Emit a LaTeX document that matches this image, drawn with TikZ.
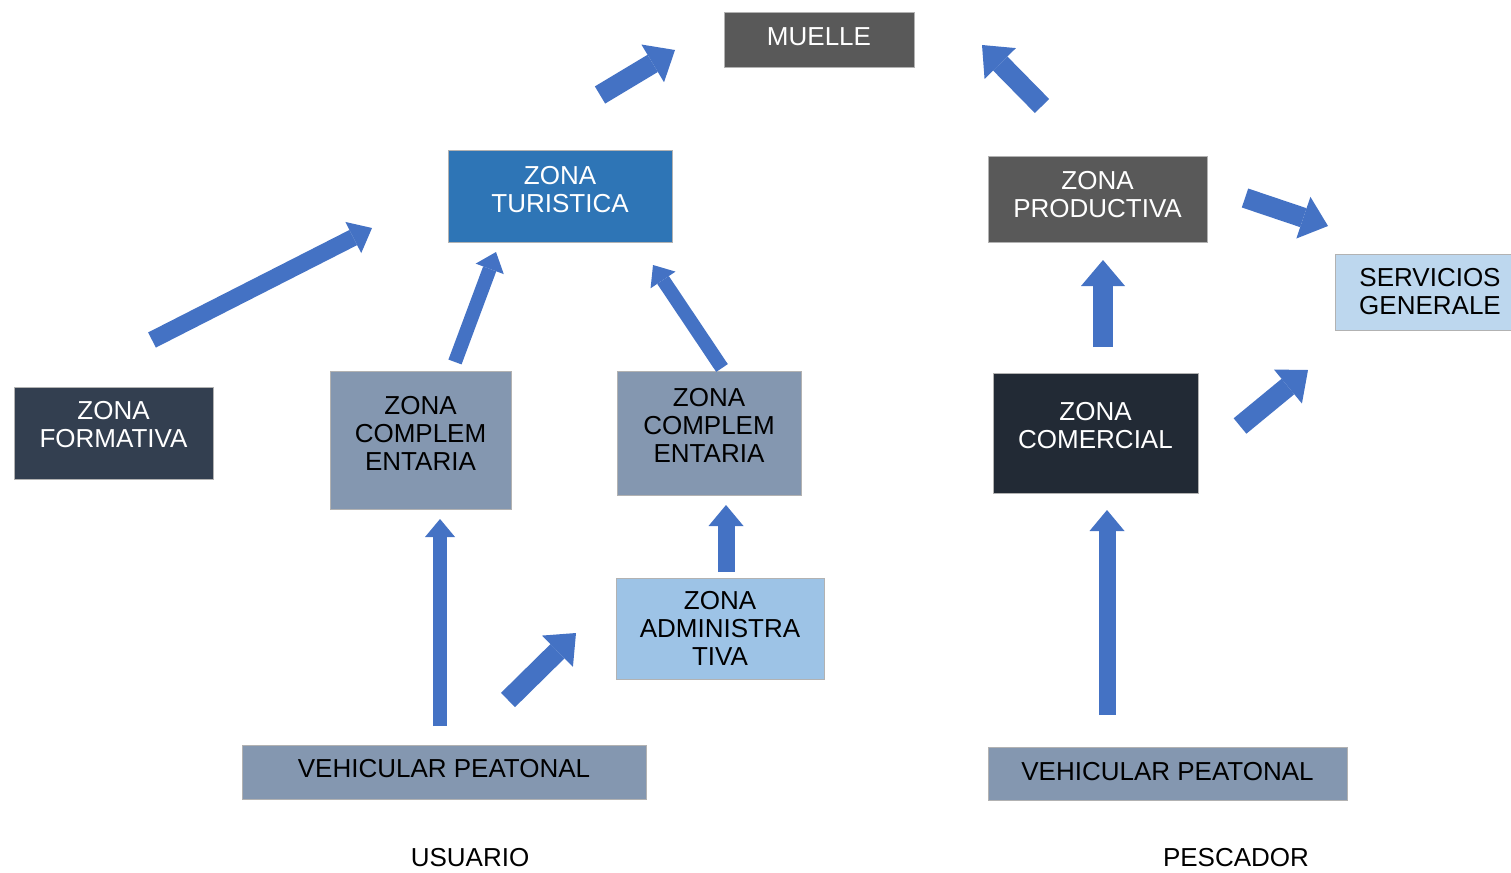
\documentclass[tikz,border=0pt]{standalone}
\usepackage{fontspec}
\setmainfont{Liberation Sans}
\usetikzlibrary{arrows.meta}
\definecolor{cgray}{HTML}{595959}
\definecolor{cblue}{HTML}{2E75B6}
\definecolor{clight}{HTML}{BDD7EE}
\definecolor{cform}{HTML}{333F50}
\definecolor{ccomp}{HTML}{8497B0}
\definecolor{ccom}{HTML}{222A35}
\definecolor{cadm}{HTML}{9DC3E6}
\definecolor{carrow}{HTML}{4472C4}
\begin{document}
\begin{tikzpicture}[x=1pt,y=-1pt,
  box/.style={rectangle, inner sep=0pt, draw=black!30, line width=1pt, align=center,
    font=\fontsize{26}{28}\selectfont},
  plain/.style={inner sep=0pt, font=\fontsize{26}{28}\selectfont},
  arrowbig/.style={draw=carrow, line width=20pt, -{Triangle[width=44pt,length=26pt,line width=0pt]}},
  arrowmid/.style={draw=carrow, line width=17pt, -{Triangle[width=35pt,length=21pt,line width=0pt]}},
  arrowthin/.style={draw=carrow, line width=14pt, -{Triangle[width=30pt,length=18pt,line width=0pt]}}]
\useasboundingbox (0,0) rectangle (1511,872);
\clip (0,0) rectangle (1511,872);
% boxes
\node[box, fill=cgray, text=white, minimum width=190pt, minimum height=55pt, text depth=7pt] (muelle) at (819,40.5) {MUELLE};
\node[box, fill=cblue, text=white, minimum width=224pt, minimum height=92pt, text depth=14pt] (tur) at (560,196) {ZONA\\TURISTICA};
\node[box, fill=cgray, text=white, minimum width=219pt, minimum height=86pt, text depth=9pt] (prod) at (1097.5,199) {ZONA\\PRODUCTIVA};
\node[box, fill=clight, text=black, minimum width=190pt, minimum height=76pt] (serv) at (1430,292) {SERVICIOS\\GENERALE};
\node[box, fill=cform, text=white, minimum width=199pt, minimum height=92pt, text depth=18pt] (form) at (113.5,433) {ZONA\\FORMATIVA};
\node[box, fill=ccomp, text=black, minimum width=181pt, minimum height=138pt, text depth=14pt] (compl) at (420.5,440) {ZONA\\COMPLEM\\ENTARIA};
\node[box, fill=ccomp, text=black, minimum width=184pt, minimum height=124pt, text depth=16pt] (compr) at (709,433) {ZONA\\COMPLEM\\ENTARIA};
\node[box, fill=ccom, text=white, minimum width=205pt, minimum height=120pt, text depth=16pt] (com) at (1095.5,433) {ZONA\\COMERCIAL};
\node[box, fill=cadm, text=black, minimum width=208pt, minimum height=101pt] (adm) at (720,628.5) {ZONA\\ADMINISTRA\\TIVA};
\node[box, fill=ccomp, text=black, minimum width=404pt, minimum height=54pt, text depth=8pt] (vehl) at (444,772) {VEHICULAR PEATONAL};
\node[box, fill=ccomp, text=black, minimum width=359pt, minimum height=53pt, text depth=5pt] (vehr) at (1167.5,773.5) {VEHICULAR PEATONAL};
\node[plain] (usuario) at (470,858) {USUARIO};
\node[plain] (pescador) at (1236,858) {PESCADOR};
% arrow end points
\coordinate (t1) at (600,95);   \coordinate (h1) at (675,50);
\coordinate (t2) at (1042,106); \coordinate (h2) at (982,45);
\coordinate (t3) at (152,340);  \coordinate (h3) at (372,228);
\coordinate (t4) at (455,362);  \coordinate (h4) at (496,252);
\coordinate (t5) at (722,368);  \coordinate (h5) at (653,265);
\coordinate (t6) at (440,726);  \coordinate (h6) at (440,519);
\coordinate (t7) at (508,700);  \coordinate (h7) at (576,633);
\coordinate (t8) at (726,572);  \coordinate (h8) at (726,505);
\coordinate (t9) at (1107,715); \coordinate (h9) at (1107,510);
\coordinate (t10) at (1103,347); \coordinate (h10) at (1103,260);
\coordinate (t11) at (1240,426); \coordinate (h11) at (1308,370);
\coordinate (t12) at (1245,198); \coordinate (h12) at (1328,226);
% arrows
\draw[arrowbig] (t1) -- (h1);
\draw[arrowbig] (t2) -- (h2);
\draw[arrowmid] (t3) -- (h3);
\draw[arrowthin] (t4) -- (h4);
\draw[arrowthin] (t5) -- (h5);
\draw[arrowthin] (t6) -- (h6);
\draw[arrowbig] (t7) -- (h7);
\draw[arrowmid] (t8) -- (h8);
\draw[arrowmid] (t9) -- (h9);
\draw[arrowbig] (t10) -- (h10);
\draw[arrowbig] (t11) -- (h11);
\draw[arrowbig] (t12) -- (h12);
\end{tikzpicture}
\end{document}
